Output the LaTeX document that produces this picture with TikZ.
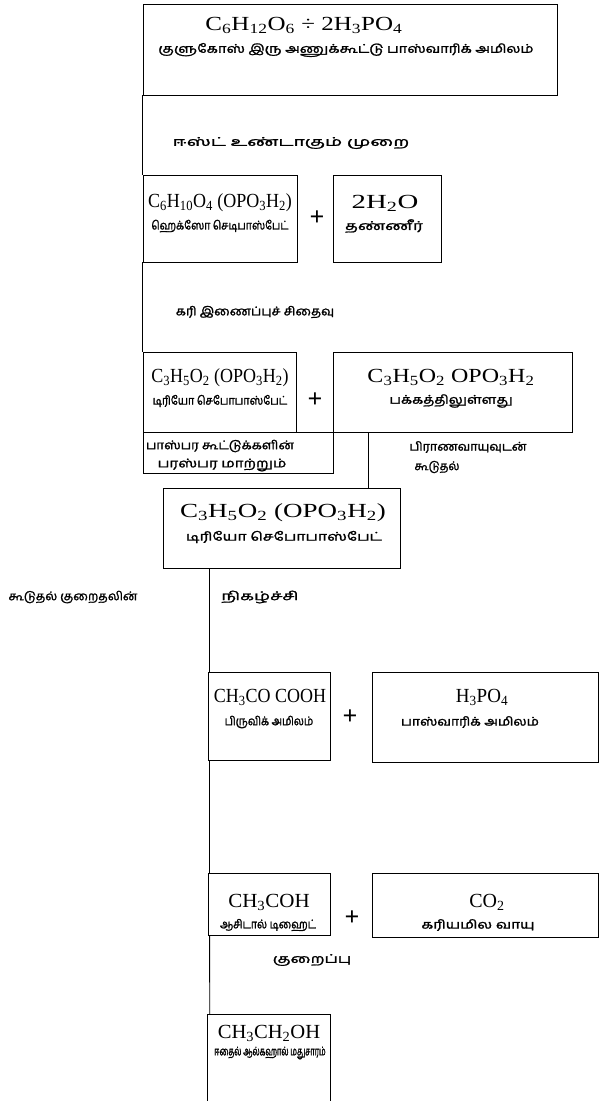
\documentclass[tikz,border=0pt]{standalone}
\usepackage{graphicx}
\usepackage{fontspec}
\setmainfont{Liberation Serif}
\newfontfamily\tamil[Script=Tamil, FakeBold=1.6]{Hind Madurai}
\newcommand\chsub[1]{\textsubscript{#1}}
\newcommand\sx[2]{\scalebox{#1}[1]{#2}}
\tikzset{
  box/.style={draw, line width=0.9pt, inner sep=0pt},
  conn/.style={line width=0.9pt},
  frm/.style={font=\fontsize{20}{23}\selectfont, inner sep=0pt},
  tam/.style={font=\tamil\fontsize{12}{14}\selectfont, inner sep=0pt},
  plus/.style={font=\bfseries\fontsize{26}{28}\selectfont, inner sep=0pt}
}
\begin{document}
\begin{tikzpicture}[x=1pt,y=-1pt]
\useasboundingbox (0,0) rectangle (600,1101);
% boxes
\node[box, minimum width=414pt, minimum height=91pt] (b1) at (350,49.5) {};
\node[box, minimum width=154pt, minimum height=87pt] (b2) at (220,218.5) {};
\node[box, minimum width=108pt, minimum height=87pt] (b2r) at (387,218.5) {};
\node[box, minimum width=153pt, minimum height=80pt] (b3) at (219.5,392) {};
\node[box, minimum width=239pt, minimum height=80pt] (b3r) at (452.5,392) {};
\node[box, minimum width=190pt, minimum height=41pt] (lb) at (238,452.5) {};
\node[box, minimum width=237pt, minimum height=80pt] (b4) at (281.5,528) {};
\node[box, minimum width=122pt, minimum height=88pt] (b5) at (269,716) {};
\node[box, minimum width=226pt, minimum height=90pt] (b5r) at (485,717) {};
\node[box, minimum width=122pt, minimum height=62pt] (b6) at (269,904) {};
\node[box, minimum width=226pt, minimum height=64pt] (b6r) at (485,905) {};
\node[inner sep=0pt, minimum width=122pt, minimum height=86pt] (b7) at (269,1058) {};
\draw[conn] (b7.south west) -- (b7.north west) -- (b7.north east) -- (b7.south east);
% texts
\node[frm] (t1) at (304,25) {\sx{1.25}{C\chsub{6}H\chsub{12}O\chsub{6} ÷ 2H\chsub{3}PO\chsub{4}}};
\node[tam] (t1b) at (346,50) {\sx{1.22}{குளுகோஸ் இரு அணுக்கூட்டு பாஸ்வாரிக் அமிலம்}};
\node[tam] (l1) at (291,143) {\sx{1.6}{ஈஸ்ட் உண்டாகும் முறை}};
\node[frm] (t2) at (220,203) {\sx{0.9}{C\chsub{6}H\chsub{10}O\chsub{4} (OPO\chsub{3}H\chsub{2})}};
\node[tam] (t2b) at (220,226) {\sx{0.875}{ஹெக்ஸோ செடிபாஸ்பேட்}};
\node[plus] (p2) at (317,218) {+};
\node[frm] (t2r) at (385,203) {\sx{1.44}{2H\chsub{2}O}};
\node[tam] (t2rb) at (384,226) {\sx{1.4}{தண்ணீர்}};
\node[tam] (l2) at (255,312) {\sx{1.09}{கரி இணைப்புச் சிதைவு}};
\node[frm] (t3) at (220,378) {\sx{0.9}{C\chsub{3}H\chsub{5}O\chsub{2} (OPO\chsub{3}H\chsub{2})}};
\node[tam] (t3b) at (220,401) {\sx{0.9}{டிரியோ செபோபாஸ்பேட்}};
\node[plus] (p3) at (315,400) {+};
\node[frm] (t3r) at (451,377) {\sx{1.2}{C\chsub{3}H\chsub{5}O\chsub{2} OPO\chsub{3}H\chsub{2}}};
\node[tam] (t3rb) at (451,401) {\sx{1.21}{பக்கத்திலுள்ளது}};
\node[tam] (l3a) at (220,446) {\sx{1.1}{பாஸ்பர கூட்டுக்களின்}};
\node[tam] (l3b) at (222,465) {\sx{1.25}{பரஸ்பர மாற்றும்}};
\node[tam] (l4a) at (468,447) {\sx{1.05}{பிராணவாயுவுடன்}};
\node[tam] (l4b) at (437,467) {\sx{0.95}{கூடுதல்}};
\node[frm] (t4) at (283,513) {\sx{1.35}{C\chsub{3}H\chsub{5}O\chsub{2} (OPO\chsub{3}H\chsub{2})}};
\node[tam] (t4b) at (284,537) {\sx{1.31}{டிரியோ செபோபாஸ்பேட்}};
\node[tam] (l5a) at (73,597) {\sx{1.03}{கூடுதல் குறைதலின்}};
\node[tam] (l5b) at (260,597) {\sx{1.5}{நிகழ்ச்சி}};
\node[frm] (t5) at (270,697) {\sx{0.9}{CH\chsub{3}CO COOH}};
\node[tam] (t5b) at (269,722) {\sx{0.875}{பிருவிக் அமிலம்}};
\node[plus] (p5) at (350,717) {+};
\node[frm] (t5r) at (482,697) {\sx{0.95}{H\chsub{3}PO\chsub{4}}};
\node[tam] (t5rb) at (470,722) {\sx{1.15}{பாஸ்வாரிக் அமிலம்}};
\node[frm] (t6) at (269,902) {\sx{1.05}{CH\chsub{3}COH}};
\node[tam] (t6b) at (268,925) {\sx{0.875}{ஆசிடால் டிஹைட்}};
\node[plus] (p6) at (352,918) {+};
\node[frm] (t6r) at (487,902) {\sx{1.0}{CO\chsub{2}}};
\node[tam] (t6rb) at (478,925) {\sx{1.28}{கரியமில வாயு}};
\node[tam] (l6) at (312,960) {\sx{1.4}{குறைப்பு}};
\node[frm] (t7) at (269,1033) {\sx{1.03}{CH\chsub{3}CH\chsub{2}OH}};
\node[tam] (t7b) at (270,1053) {\sx{0.62}{ஈதைல் ஆல்கஹால் மதுசாரம்}};
% connectors
\coordinate (j1) at (368,432);
\draw[conn] (b1.south west) -- (b2.north west);
\draw[conn] (b2.south west) -- (b3.north west);
\draw[conn] (j1) -- (j1 |- b4.north);
\draw[conn] ([xshift=2pt]b5.north west |- b4.south) -- ([xshift=2pt]b5.north west);
\draw[conn] ([xshift=2pt]b5.south west) -- ([xshift=2pt]b6.north west);
\draw[conn] ([xshift=2pt]b6.south west) -- ([xshift=2pt]b7.north west);
\end{tikzpicture}
\end{document}
